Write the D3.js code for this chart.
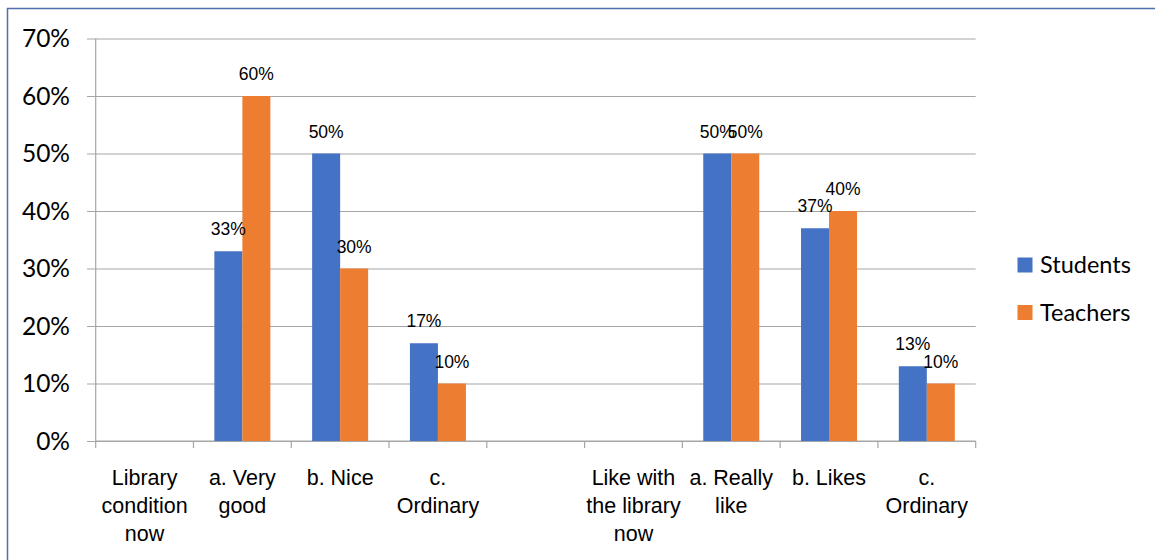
<!DOCTYPE html>
<html>
<head>
<meta charset="utf-8">
<script src="https://cdn.jsdelivr.net/npm/d3@7"></script>
<style>
  html, body { margin: 0; padding: 0; background: #fff; }
  svg { display: block; }
</style>
</head>
<body>
<svg id="chart" width="1155" height="560"></svg>
<script>
const categories = ["Library\ncondition\nnow", "a. Very\ngood", "b. Nice", "c.\nOrdinary", "", "Like with\nthe library\nnow", "a. Really\nlike", "b. Likes", "c.\nOrdinary"];
const seriesNames = ["Students", "Teachers"];
const students = [null, 0.33, 0.50, 0.17, null, null, 0.50, 0.37, 0.13];
const teachers = [null, 0.60, 0.30, 0.10, null, null, 0.50, 0.40, 0.10];
const yTicks = [0, 0.1, 0.2, 0.3, 0.4, 0.5, 0.6, 0.7];
const colors = ["#4472C4", "#ED7D31"];

const svg = d3.select("#chart");

// outer frame (top & left visible)
svg.append("rect")
  .attr("x", 7.5).attr("y", 8.5)
  .attr("width", 1160).attr("height", 570)
  .attr("fill", "none").attr("stroke", "#4F6FAF").attr("stroke-width", 1.5);

const x0 = 95.7, x1 = 975.7, yTop = 38.5, yBot = 441;
const x = d3.scaleBand().domain(d3.range(categories.length)).range([x0, x1]);
const xs = d3.scaleBand().domain(seriesNames).range([0, x.bandwidth()]).paddingInner(0).paddingOuter(0.746);
const y = d3.scaleLinear().domain([0, 0.7]).range([yBot, yTop]);

// gridlines + y labels
const yAxis = d3.axisLeft(y).tickValues(yTicks).tickSize(x1 - 87).tickPadding(17)
  .tickFormat(d3.format(".0%"));
const gy = svg.append("g").attr("transform", `translate(${x1},0)`).call(yAxis);
gy.select(".domain").remove();
gy.selectAll(".tick line").attr("stroke", "#A6A6A6").attr("stroke-width", 1.2);
gy.selectAll(".tick text")
  .attr("font-family", "Lato, 'Open Sans', sans-serif")
  .attr("font-size", 24.5).attr("fill", "#000").attr("dy", "0.34em");

// vertical axis line
svg.append("line").attr("x1", x0).attr("x2", x0).attr("y1", yTop).attr("y2", yBot)
  .attr("stroke", "#A6A6A6").attr("stroke-width", 1.2);

// x axis line and ticks at band boundaries
svg.append("line").attr("x1", x0).attr("x2", x1).attr("y1", yBot).attr("y2", yBot)
  .attr("stroke", "#A6A6A6").attr("stroke-width", 1.2);
const bounds = d3.range(categories.length + 1).map(i => x0 + i * x.step());
svg.append("g").selectAll("line").data(bounds).join("line")
  .attr("x1", d => d).attr("x2", d => d).attr("y1", yBot).attr("y2", yBot + 7)
  .attr("stroke", "#A6A6A6").attr("stroke-width", 1.2);

// bars
const seriesData = [students, teachers];
seriesData.forEach((vals, si) => {
  const g = svg.append("g");
  const data = vals.map((v, i) => ({ i, v })).filter(d => d.v != null);
  g.selectAll("rect").data(data).join("rect")
    .attr("x", d => x(d.i) + xs(seriesNames[si]))
    .attr("width", xs.bandwidth())
    .attr("y", d => y(d.v))
    .attr("height", d => y(0) - y(d.v))
    .attr("fill", colors[si]);
});

// data labels
seriesData.forEach((vals, si) => {
  const data = vals.map((v, i) => ({ i, v })).filter(d => d.v != null);
  svg.append("g").selectAll("text").data(data).join("text")
    .attr("x", d => x(d.i) + xs(seriesNames[si]) + xs.bandwidth() / 2)
    .attr("y", d => y(d.v) - 16)
    .attr("text-anchor", "middle")
    .attr("font-family", "'Liberation Sans', Arial, sans-serif")
    .attr("font-size", 17.5)
    .attr("fill", "#000")
    .text(d => d3.format(".0%")(d.v));
});

// category labels
const cl = svg.append("g");
categories.forEach((c, i) => {
  const t = cl.append("text")
    .attr("x", x(i) + x.bandwidth() / 2)
    .attr("y", 485)
    .attr("text-anchor", "middle")
    .attr("font-family", "'Liberation Sans', Arial, sans-serif")
    .attr("font-size", 21.5)
    .attr("fill", "#000");
  c.split("\n").forEach((line, li) => {
    t.append("tspan").attr("x", x(i) + x.bandwidth() / 2).attr("dy", li === 0 ? 0 : 28).text(line);
  });
});

// legend
const leg = svg.append("g");
seriesNames.forEach((s, i) => {
  const ly = 265 + i * 47.5;
  leg.append("rect").attr("x", 1017.5).attr("y", ly - 7.5).attr("width", 15).attr("height", 15).attr("fill", colors[i]);
  leg.append("text").attr("x", 1040).attr("y", ly).attr("dy", "0.35em")
    .attr("font-family", "Lato, 'Open Sans', sans-serif").attr("font-size", 23.5)
    .attr("fill", "#000").text(s);
});
</script>
</body>
</html>
